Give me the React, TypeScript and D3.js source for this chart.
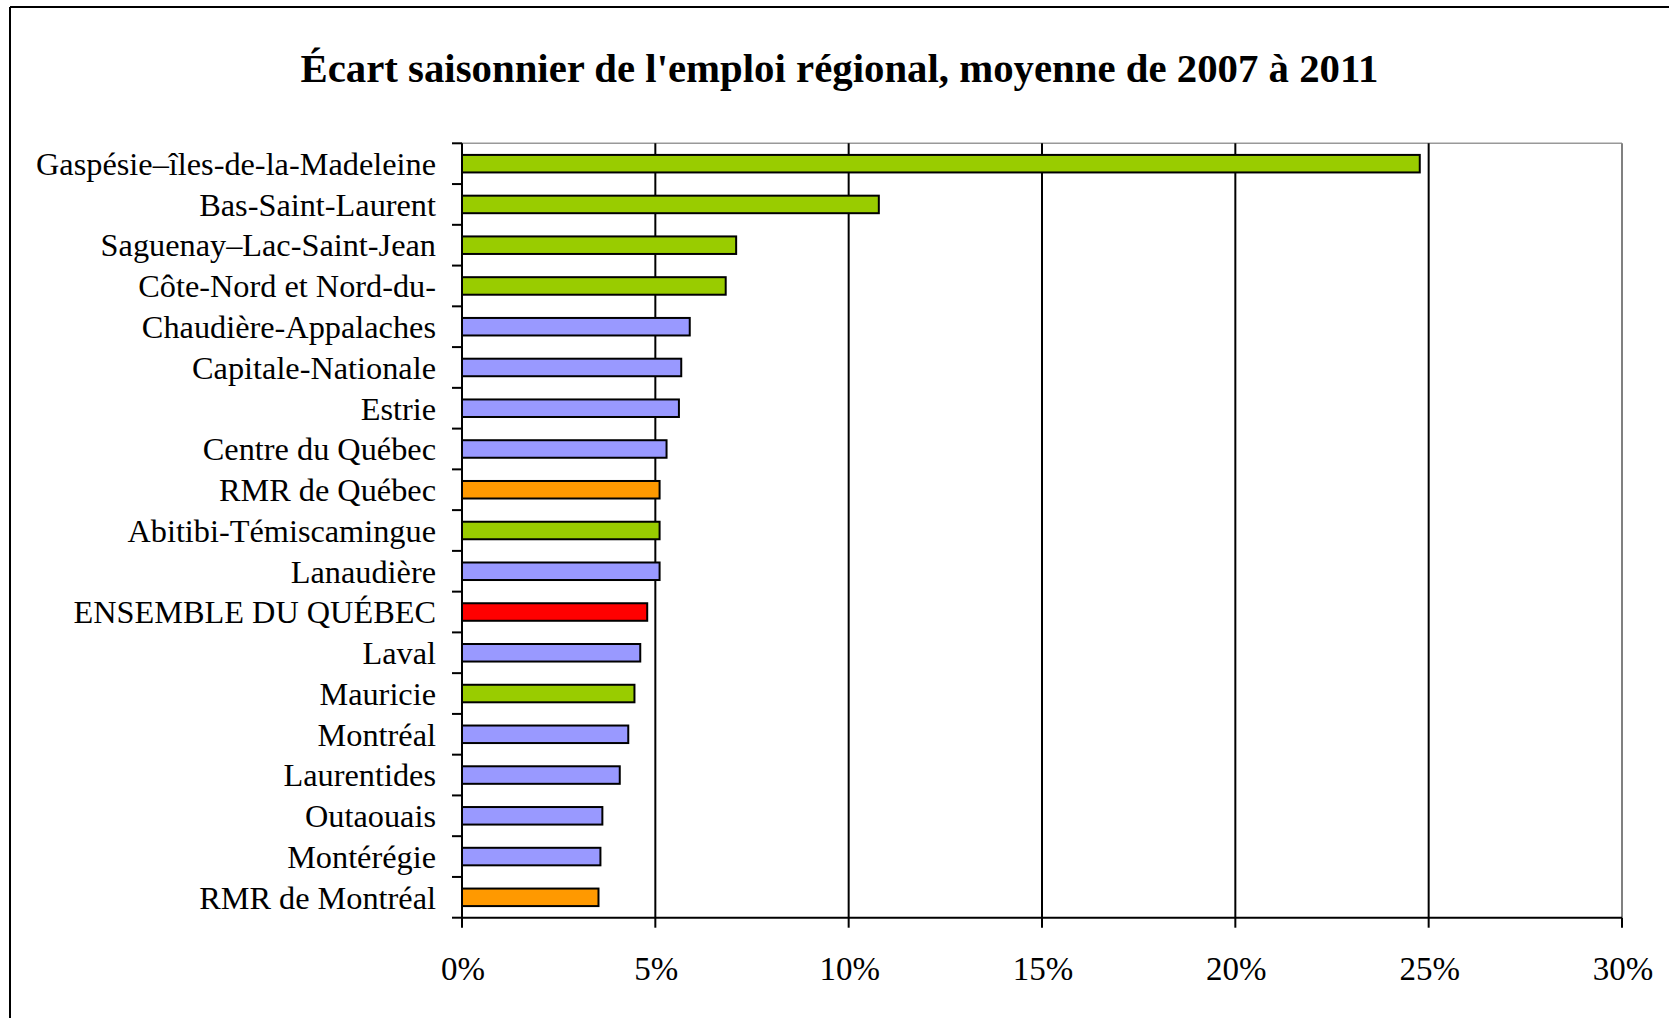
import React from "react";
import * as d3 from "d3";

const categories: string[] = [
  "Gaspésie–îles-de-la-Madeleine",
  "Bas-Saint-Laurent",
  "Saguenay–Lac-Saint-Jean",
  "Côte-Nord et Nord-du-",
  "Chaudière-Appalaches",
  "Capitale-Nationale",
  "Estrie",
  "Centre du Québec",
  "RMR de Québec",
  "Abitibi-Témiscamingue",
  "Lanaudière",
  "ENSEMBLE DU QUÉBEC",
  "Laval",
  "Mauricie",
  "Montréal",
  "Laurentides",
  "Outaouais",
  "Montérégie",
  "RMR de Montréal",
];

const values: number[] = [
  24.77, 10.78, 7.09, 6.82, 5.89, 5.67, 5.61, 5.29, 5.11, 5.11, 5.11, 4.79,
  4.61, 4.46, 4.3, 4.08, 3.63, 3.58, 3.53,
];

const groups: string[] = [
  "ressource", "ressource", "ressource", "ressource",
  "autre", "autre", "autre", "autre",
  "rmr", "ressource", "autre", "total",
  "autre", "ressource", "autre", "autre",
  "autre", "autre", "rmr",
];

const groupColors: Record<string, string> = {
  ressource: "#99CC00",
  autre: "#9999FF",
  rmr: "#FF9900",
  total: "#FF0000",
};

const xTicks: number[] = [0, 5, 10, 15, 20, 25, 30];

const title = "Écart saisonnier de l'emploi régional, moyenne de 2007 à 2011";

export default function App() {
  const W = 1669;
  const H = 1018;
  const left = 462;
  const right = 1622;
  const top = 143.3;
  const bottom = 917.7;
  const font = "'Liberation Serif', 'Times New Roman', serif";

  const x = d3.scaleLinear().domain([0, 30]).range([left, right]);
  const y = d3
    .scaleBand<string>()
    .domain(categories)
    .range([top, bottom])
    .paddingInner(0.57)
    .paddingOuter(0.285);
  const step = y.step();
  const boundaries = d3.range(categories.length + 1).map((i) => top + i * step);

  return (
    <svg
      width={W}
      height={H}
      style={{ position: "absolute", left: 0, top: 0, display: "block", background: "#fff" }}
    >
      <rect x={0} y={0} width={W} height={H} fill="#fff" />
      <line x1={10} y1={7} x2={W + 5} y2={7} stroke="#000" strokeWidth={2} />
      <line x1={10} y1={7} x2={10} y2={H + 5} stroke="#000" strokeWidth={2} />

      <text
        x={839.5}
        y={82}
        textAnchor="middle"
        fontFamily={font}
        fontWeight="bold"
        fontSize={40.8}
        fill="#000"
      >
        {title}
      </text>

      <line x1={left} y1={top} x2={right} y2={top} stroke="#999" strokeWidth={1.5} />
      <line x1={right} y1={top} x2={right} y2={bottom} stroke="#808080" strokeWidth={2} />

      {xTicks
        .filter((t) => t > 0 && t < 30)
        .map((t) => (
          <line key={"g" + t} x1={x(t)} x2={x(t)} y1={top} y2={bottom} stroke="#000" strokeWidth={2} />
        ))}

      {categories.map((c, i) => (
        <rect
          key={c}
          x={x(0)}
          y={y(c)!}
          width={x(values[i]) - x(0)}
          height={y.bandwidth()}
          fill={groupColors[groups[i]]}
          stroke="#000"
          strokeWidth={2}
        />
      ))}

      <line x1={left} x2={left} y1={top} y2={bottom} stroke="#000" strokeWidth={2} />
      {boundaries.map((b, i) => (
        <line key={"yt" + i} x1={left - 10} x2={left} y1={b} y2={b} stroke="#000" strokeWidth={2} />
      ))}
      {categories.map((c) => (
        <text
          key={"l" + c}
          x={436}
          y={y(c)! + y.bandwidth() / 2 + 11.3}
          textAnchor="end"
          fontFamily={font}
          fontSize={32.3}
          fill="#000"
        >
          {c}
        </text>
      ))}

      <line x1={left} x2={right} y1={bottom} y2={bottom} stroke="#000" strokeWidth={2} />
      {xTicks.map((t) => (
        <g key={"xt" + t}>
          <line x1={x(t)} x2={x(t)} y1={bottom} y2={bottom + 10} stroke="#000" strokeWidth={2} />
          <text
            x={x(t) + 1}
            y={980}
            textAnchor="middle"
            fontFamily={font}
            fontSize={33}
            fill="#000"
          >
            {t + "%"}
          </text>
        </g>
      ))}
    </svg>
  );
}
